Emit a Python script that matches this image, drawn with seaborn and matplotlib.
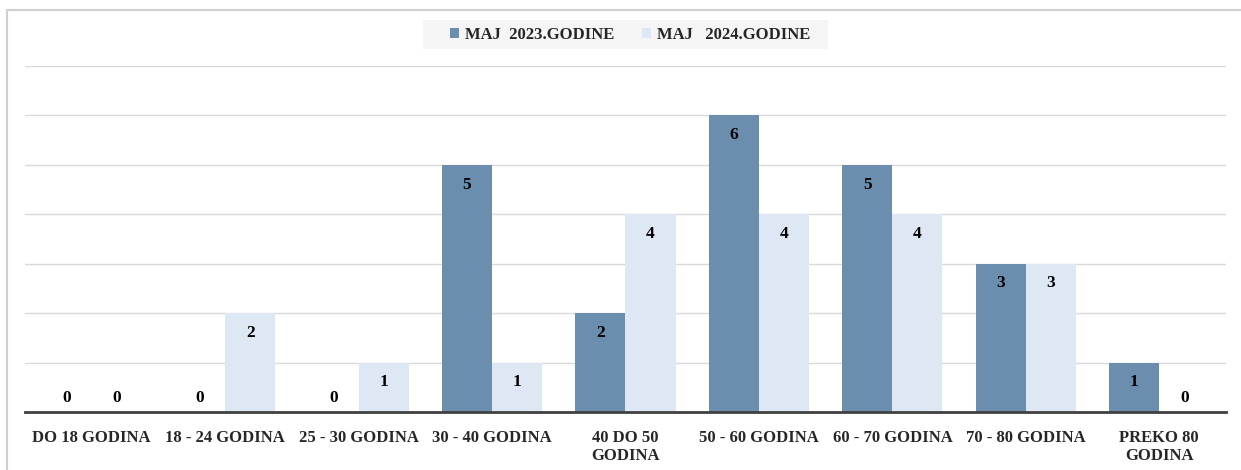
import pandas as pd
import seaborn as sns
import matplotlib.pyplot as plt
from matplotlib.patches import Rectangle
from matplotlib.lines import Line2D

categories = ["DO 18 GODINA", "18 - 24 GODINA", "25 - 30 GODINA", "30 - 40 GODINA",
              "40 DO 50\nGODINA", "50 - 60 GODINA", "60 - 70 GODINA", "70 - 80 GODINA",
              "PREKO 80\nGODINA"]
series_names = ["MAJ  2023.GODINE", "MAJ   2024.GODINE"]
values_2023 = [0, 0, 0, 5, 2, 6, 5, 3, 1]
values_2024 = [0, 2, 1, 1, 4, 4, 4, 3, 0]
colors = ["#6B8EAE", "#DDE8F4"]

df = pd.DataFrame({
    "kategorija": categories * 2,
    "serija": [series_names[0]] * len(categories) + [series_names[1]] * len(categories),
    "broj": values_2023 + values_2024,
})

sns.set_theme(style="white")
plt.rcParams["font.family"] = ["Liberation Serif", "DejaVu Serif"]
plt.rcParams["font.weight"] = "bold"

fig = plt.figure(figsize=(12.41, 4.70), dpi=100)
ax = fig.add_axes([25 / 1241, 1 - 412 / 470, 1201 / 1241, 346 / 470])

sns.barplot(data=df, x="kategorija", y="broj", hue="serija", palette=colors,
            width=0.75, saturation=1, ax=ax, legend=False, linewidth=0)

ax.set_ylim(0, 7)
ax.set_xlim(-0.5, len(categories) - 0.5)
ax.set_yticks(range(1, 8))
ax.yaxis.grid(True, color="#D9D9D9", linewidth=1)
ax.set_axisbelow(True)
ax.tick_params(axis="y", left=False, labelleft=False)
ax.tick_params(axis="x", bottom=False, pad=7, labelsize=12)
for lab in ax.get_xticklabels():
    lab.set_fontweight("bold")
    lab.set_linespacing(1.2)
for s in ["top", "right", "left"]:
    ax.spines[s].set_visible(False)
ax.spines["bottom"].set_color("#404040")
ax.spines["bottom"].set_linewidth(2)
ax.set_xlabel("")
ax.set_ylabel("")

# value labels (inside end, zeros sit just above the axis)
for container in ax.containers:
    for bar in container:
        v = bar.get_height()
        x = bar.get_x() + bar.get_width() / 2
        y = v - 0.4 if v > 0 else 0.28
        ax.text(x, y, f"{int(v)}", ha="center", va="center", fontsize=12.5,
                fontweight="bold", color="black")

# legend with light grey box
fig.patches.append(Rectangle((423 / 1241, 1 - 49 / 470), 405 / 1241, 29 / 470,
                             transform=fig.transFigure, facecolor="#F5F5F5",
                             edgecolor="none", zorder=0))
handles = [Rectangle((0, 0), 1, 1, facecolor=c, edgecolor="none") for c in colors]
fig.legend(handles, series_names, loc="center", bbox_to_anchor=(630 / 1241, 1 - 35 / 470),
           ncol=2, frameon=False, handlelength=0.55, handleheight=0.55,
           handletextpad=0.35, columnspacing=1.7, prop={"weight": "bold", "size": 12})

# outer chart frame (only top and left edges are visible in the crop)
fig.lines.append(Line2D([7 / 1241, 1.0], [1 - 10 / 470, 1 - 10 / 470], transform=fig.transFigure,
                        color="#D0D0D0", linewidth=1.5))
fig.lines.append(Line2D([7 / 1241, 7 / 1241], [0, 1 - 10 / 470], transform=fig.transFigure,
                        color="#D0D0D0", linewidth=1.5))

plt.savefig("out.png", dpi=100)
plt.close("all")
